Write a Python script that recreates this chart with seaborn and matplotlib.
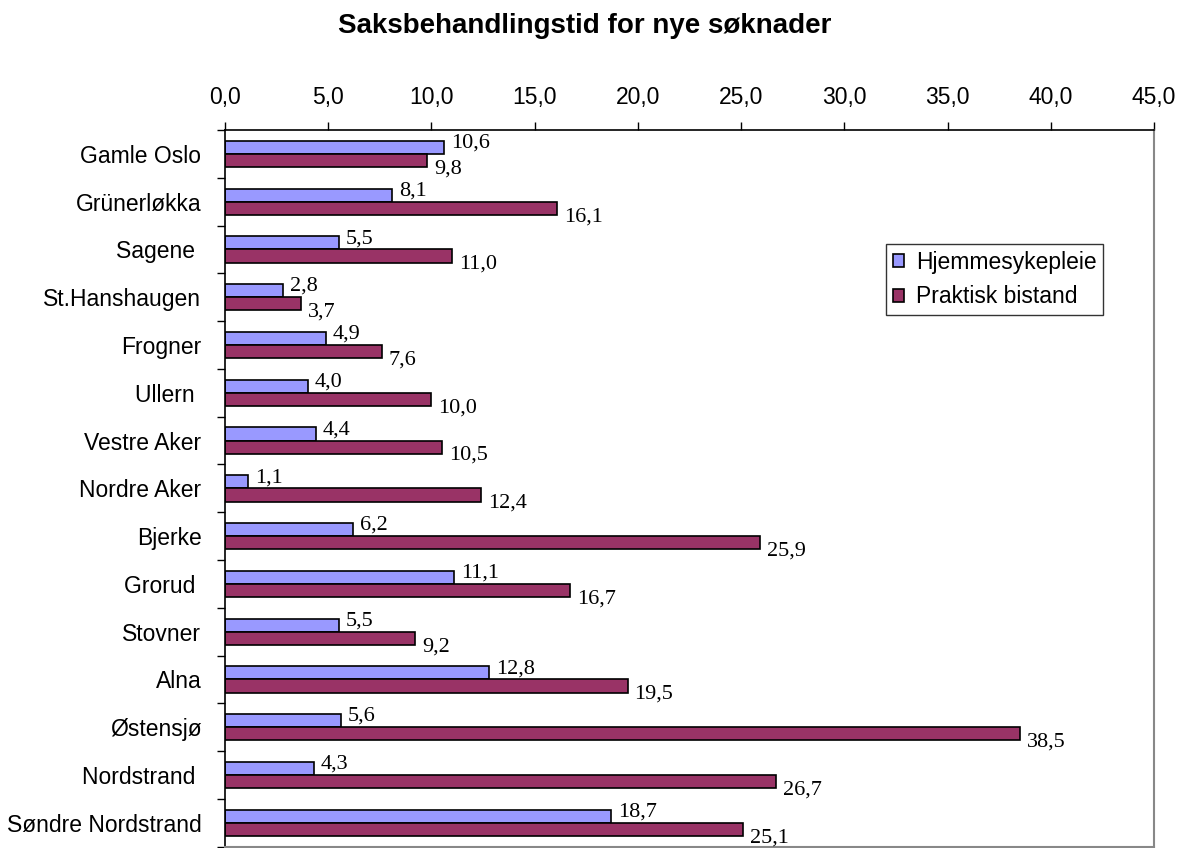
import matplotlib
matplotlib.use("Agg")
import matplotlib.pyplot as plt
import seaborn as sns
import pandas as pd
import numpy as np
from matplotlib.ticker import FixedLocator, FuncFormatter

bydeler = ['Gamle Oslo', 'Grünerløkka', 'Sagene ', 'St.Hanshaugen', 'Frogner',
           'Ullern ', 'Vestre Aker', 'Nordre Aker', 'Bjerke', 'Grorud ',
           'Stovner', 'Alna', 'Østensjø', 'Nordstrand ', 'Søndre Nordstrand']
hjemmesykepleie = [10.6, 8.1, 5.5, 2.8, 4.9, 4.0, 4.4, 1.1, 6.2, 11.1, 5.5, 12.8, 5.6, 4.3, 18.7]
praktisk_bistand = [9.8, 16.1, 11.0, 3.7, 7.6, 10.0, 10.5, 12.4, 25.9, 16.7, 9.2, 19.5, 38.5, 26.7, 25.1]
serier = ['Hjemmesykepleie', 'Praktisk bistand']
farger = ['#9999FF', '#993366']

df = pd.DataFrame({
    'bydel': bydeler * 2,
    'dager': hjemmesykepleie + praktisk_bistand,
    'serie': [serier[0]] * len(bydeler) + [serier[1]] * len(bydeler),
})

sns.set_style('white')
plt.rcParams['font.family'] = ['Liberation Sans', 'DejaVu Sans']
plt.rcParams['text.color'] = 'black'
plt.rcParams['xtick.color'] = 'black'
plt.rcParams['ytick.color'] = 'black'
plt.rcParams['axes.labelcolor'] = 'black'

fig = plt.figure(figsize=(11.88, 8.48), dpi=100)
ax = fig.add_axes([0.1894, 0.0015, 0.782, 0.8452])

sns.barplot(data=df, y='bydel', x='dager', hue='serie', palette=farger,
            orient='h', width=0.55, edgecolor='black', linewidth=1.2,
            saturation=1, ax=ax)

ax.set_xlim(0, 45)
ax.set_ylim(len(bydeler) - 0.5, -0.5)
ax.xaxis.tick_top()
ax.set_xticks(np.arange(0, 46, 5))
ax.xaxis.set_major_formatter(FuncFormatter(lambda v, p: f'{v:.1f}'.replace('.', ',')))
ax.tick_params(axis='x', direction='out', length=6, width=1, color='black',
               labelcolor='black', labelsize=16.5, pad=9)
ax.tick_params(axis='y', which='major', length=0, labelcolor='black',
               labelsize=16.5, pad=17)
ax.yaxis.set_minor_locator(FixedLocator(np.arange(-0.5, len(bydeler), 1)))
ax.tick_params(axis='y', which='minor', direction='out', length=5.5, width=1,
               color='black', left=True)
ax.set_xlabel('')
ax.set_ylabel('')

for side in ['left', 'top']:
    ax.spines[side].set_color('black')
    ax.spines[side].set_linewidth(1.2)
for side in ['right', 'bottom']:
    ax.spines[side].set_color('#888888')
    ax.spines[side].set_linewidth(1.5)

# verdietiketter
for i, cont in enumerate(ax.containers):
    for bar in cont:
        w = bar.get_width()
        yc = bar.get_y() + bar.get_height() / 2
        dy = 3 if i == 0 else -6
        ax.annotate(f'{w:.1f}'.replace('.', ','), (w, yc),
                    xytext=(5, dy), textcoords='offset points',
                    va='center', ha='left', fontsize=16, color='black',
                    family=['Liberation Serif', 'DejaVu Serif'])

leg = ax.legend(loc='upper left', bbox_to_anchor=(0.7458, 0.7123),
                bbox_transform=fig.transFigure, fontsize=16.5,
                frameon=True, fancybox=False, edgecolor='black',
                handlelength=0.5, handleheight=0.5, handletextpad=0.5,
                borderpad=0.3, labelspacing=0.5, borderaxespad=0)
leg.get_frame().set_linewidth(1)
for t in leg.get_texts():
    t.set_color('black')
for h in leg.legend_handles:
    h.set_edgecolor('black')
    h.set_linewidth(1.2)

fig.text(0.4924, 0.969, 'Saksbehandlingstid for nye søknader',
         ha='center', va='center', fontsize=20, fontweight='bold', color='black')

fig.savefig('out.png', dpi=100)
